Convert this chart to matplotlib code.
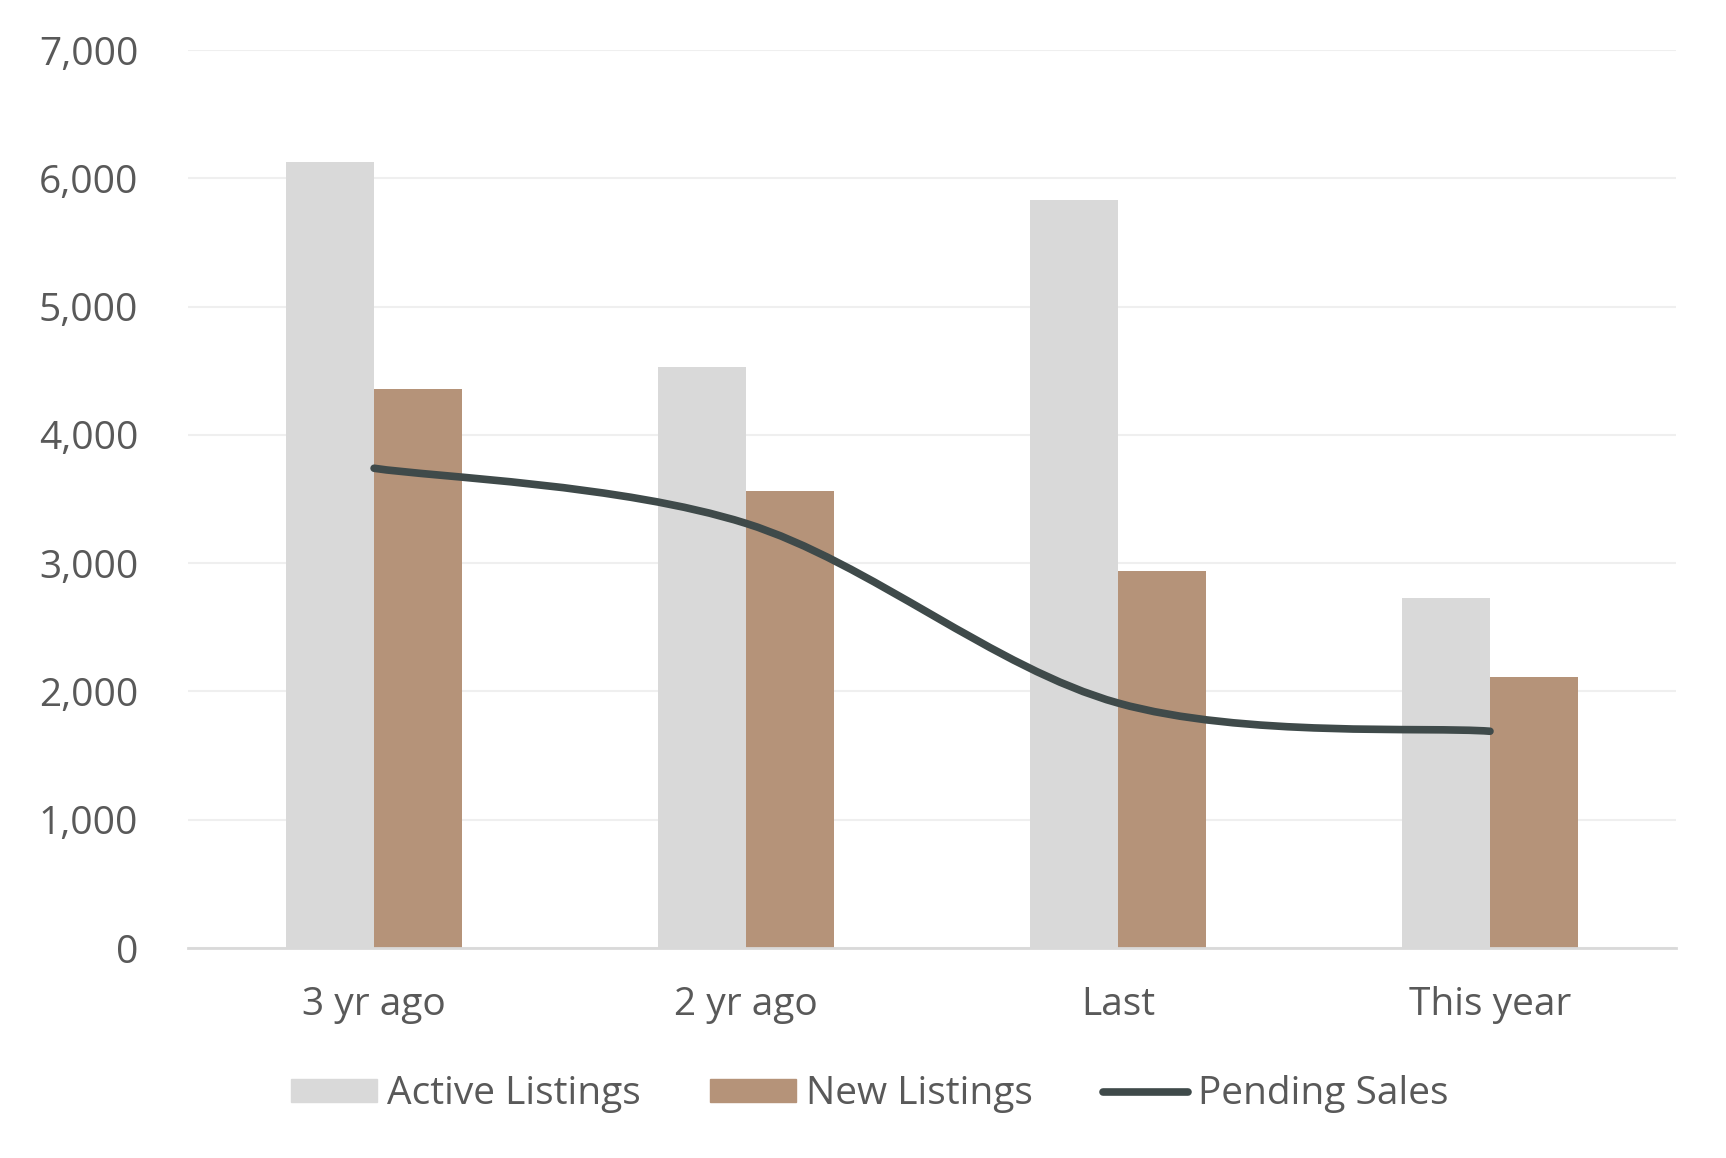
import matplotlib.pyplot as plt
from matplotlib.path import Path
from matplotlib.patches import PathPatch
from matplotlib.lines import Line2D
from matplotlib.patches import Patch
import numpy as np

# Values
categories = ['3 yr ago', '2 yr ago', 'Last', 'This year']
active_listings = [6130, 4530, 5830, 2725]
new_listings = [4360, 3560, 2940, 2110]
pending_sales = [3740, 3310, 1910, 1690]

plt.rcParams['font.family'] = ['Open Sans', 'DejaVu Sans']
text_color = '#595959'
active_color = '#d9d9d9'
new_color = '#b59379'
line_color = '#3f4a4a'
fs = 28

fig = plt.figure(figsize=(17.26, 11.58), dpi=100)
ax = fig.add_axes([0.109, 0.1813, 0.862, 0.7755])

x = np.arange(len(categories))
w = 0.236
ax.bar(x - w / 2, active_listings, width=w, color=active_color, zorder=2)
ax.bar(x + w / 2, new_listings, width=w, color=new_color, zorder=2)

# Smoothed line (Excel-style) as cubic Bezier segments through the data points
pts = list(zip(x.astype(float), pending_sales))
verts = [pts[0]]
codes = [Path.MOVETO]
for i in range(len(pts) - 1):
    p0 = pts[i - 1] if i > 0 else pts[i]
    p1 = pts[i]
    p2 = pts[i + 1]
    p3 = pts[i + 2] if i + 2 < len(pts) else pts[i + 1]
    c1 = (p1[0] + (p2[0] - p0[0]) / 6, p1[1] + (p2[1] - p0[1]) / 6)
    c2 = (p2[0] - (p3[0] - p1[0]) / 6, p2[1] - (p3[1] - p1[1]) / 6)
    verts += [c1, c2, p2]
    codes += [Path.CURVE4] * 3
ax.add_patch(PathPatch(Path(verts, codes), facecolor='none', edgecolor=line_color,
                       lw=5.5, capstyle='round', joinstyle='round', zorder=3))

ax.set_xlim(-0.5, 3.5)
ax.set_ylim(0, 7000)
ax.set_yticks(range(0, 7001, 1000))
ax.set_yticklabels([f'{v:,}' for v in range(0, 7001, 1000)])
ax.set_xticks(x)
ax.set_xticklabels(categories)
ax.tick_params(axis='both', length=0, labelsize=fs, labelcolor=text_color)
ax.tick_params(axis='x', pad=27)
ax.tick_params(axis='y', pad=36)

ax.grid(axis='y', color='#efefef', lw=1.5, zorder=0)
ax.set_axisbelow(True)
for s in ['top', 'right', 'left']:
    ax.spines[s].set_visible(False)
ax.spines['bottom'].set_color('#d9d9d9')
ax.spines['bottom'].set_linewidth(2)
ax.spines['bottom'].set_zorder(4)

handles = [Patch(color=active_color), Patch(color=new_color),
           Line2D([], [], color=line_color, lw=5.5, solid_capstyle='round')]
fig.legend(handles, ['Active Listings', 'New Listings', 'Pending Sales'],
           loc='center', bbox_to_anchor=(0.504, 0.055), ncol=3, frameon=False,
           fontsize=fs, labelcolor=text_color, handlelength=2.2, handleheight=0.55,
           handletextpad=0.25, columnspacing=1.8)

fig.savefig('out.png', dpi=100)
